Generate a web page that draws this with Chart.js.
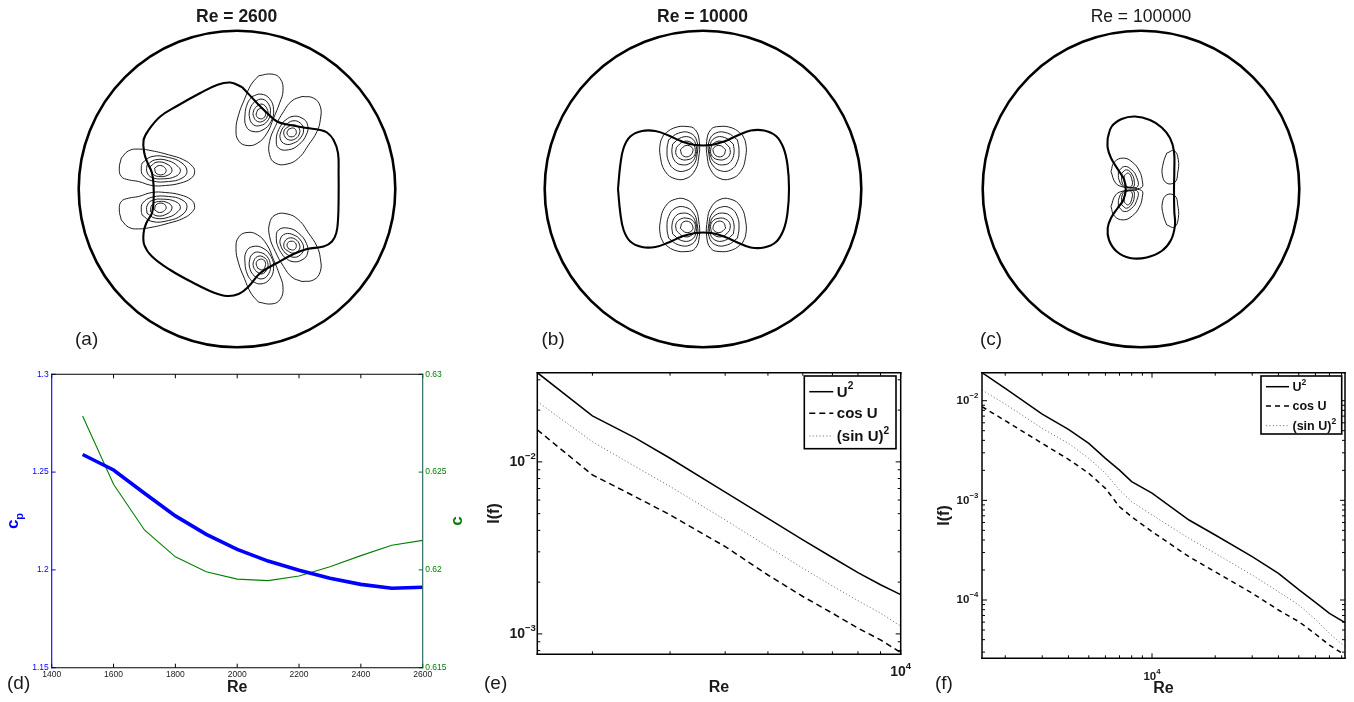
<!DOCTYPE html>
<html><head><meta charset="utf-8">
<script src="https://cdn.jsdelivr.net/npm/chart.js@4.4.1/dist/chart.umd.min.js"></script>
<style>
html,body{margin:0;padding:0;background:#fff;}
#wrap{position:relative;width:1354px;height:702px;overflow:hidden;font-family:"Liberation Sans",Arial,Helvetica,sans-serif;color:#1a1a1a;}
canvas{position:absolute;}
.t{position:absolute;white-space:nowrap;line-height:20px;}
.ttl{font-size:17.5px;transform:translateX(-50%);}
.lab{font-size:19px;}
</style></head><body>
<div id="wrap">
<canvas id="cA" width="348" height="348" style="left:63px;top:15px"></canvas>
<canvas id="cB" width="348" height="348" style="left:529px;top:15px"></canvas>
<canvas id="cC" width="348" height="348" style="left:967px;top:15px"></canvas>
<canvas id="cD" width="470" height="342" style="left:0px;top:360px"></canvas>
<canvas id="cE" width="460" height="342" style="left:460px;top:360px"></canvas>
<canvas id="cF" width="444" height="342" style="left:910px;top:360px"></canvas>
<div class="t ttl" style="left:236.7px;top:6px;font-weight:bold">Re = 2600</div>
<div class="t ttl" style="left:702.5px;top:6px;font-weight:bold">Re = 10000</div>
<div class="t ttl" style="left:1141px;top:6px">Re = 100000</div>
<div class="t lab" style="left:75px;top:329px">(a)</div>
<div class="t lab" style="left:541.5px;top:329px">(b)</div>
<div class="t lab" style="left:980px;top:329px">(c)</div>
<div class="t lab" style="left:7px;top:673px">(d)</div>
<div class="t lab" style="left:484px;top:673px">(e)</div>
<div class="t lab" style="left:935px;top:673px">(f)</div>
</div>
<script>
// ---------- panel (d) data ----------
const reD = [1500,1600,1700,1800,1900,2000,2100,2200,2300,2400,2500,2600];
const cpD = [1.259,1.2511,1.2392,1.2276,1.2182,1.2105,1.2045,1.1998,1.1957,1.1926,1.1906,1.1911];
const cD  = [0.62787,0.62438,0.62204,0.62067,0.61991,0.61953,0.61945,0.61969,0.62016,0.62073,0.62126,0.62151];
const dXTicks = [1400,1600,1800,2000,2200,2400,2600];
const dXTickLabels = ['1400','1600','1800','2000','2200','2400','2600'];
const dCpTicks = [1.15,1.2,1.25,1.3];
const dCpTickLabels = ['1.15','1.2','1.25','1.3'];
const dCTicks = [0.615,0.62,0.625,0.63];
const dCTickLabels = ['0.615','0.62','0.625','0.63'];

// ---------- panel (e) data ----------
const seriesNames = ['U\u00B2','cos U','(sin U)\u00B2'];
const eRe   = [1500,2000,2500,3000,4000,5000,6000,7000,8000,9000,10000];
const eU2   = [0.0330,0.0185,0.0138,0.0105,0.00667,0.0047,0.00352,0.00278,0.00227,0.00193,0.00169];
const eCos  = [0.01535,0.0084,0.00628,0.00492,0.00322,0.0022,0.00165,0.00132,0.00108,0.000923,0.00078];
const eSin2 = [0.0224,0.0131,0.0094,0.0072,0.0046,0.00322,0.00241,0.0019,0.00156,0.00132,0.00111];
const eXTicks = [2000,3000,4000,5000,6000,7000,8000,9000,10000];
const eXTickLabels = ['','','','','','','','','10\u2074'];
const eYTicks = [0.0008,0.0009,0.001,0.002,0.003,0.004,0.005,0.006,0.007,0.008,0.009,0.01,0.02,0.03];
const eYTickLabels = ['','','10\u207B\u00B3','','','','','','','','','10\u207B\u00B2','',''];

// ---------- panel (f) data ----------
const fRe   = [1550,2000,3000,4000,5000,6000,7000,8000,10000,15000,20000,30000,40000,50000,60000,70000,83000];
const fU2   = [0.0191,0.0133,0.00735,0.00516,0.00373,0.00264,0.00201,0.00154,0.00118,0.000635,0.000449,0.000272,0.000185,0.000127,0.0000948,0.0000735,0.0000593];
const fCos  = [0.00871,0.0063,0.00373,0.00258,0.00187,0.00132,0.000863,0.000685,0.000485,0.000272,0.000192,0.000117,0.0000794,0.0000607,0.0000456,0.0000353,0.000028];
const fSin2 = [0.0128,0.00926,0.00527,0.00373,0.00264,0.00187,0.00127,0.000971,0.000713,0.000416,0.000294,0.000178,0.000121,0.0000891,0.000064,0.0000463,0.000034];
const fXTicks = [2000,3000,4000,5000,6000,7000,8000,9000,10000,20000,30000,40000,50000,60000,70000,80000];
const fXTickLabels = ['','','','','','','','','10\u2074','','','','','','',''];
const fYTicks = [0.00003,0.00004,0.00005,0.00006,0.00007,0.00008,0.00009,0.0001,0.0002,0.0003,0.0004,0.0005,0.0006,0.0007,0.0008,0.0009,0.001,0.002,0.003,0.004,0.005,0.006,0.007,0.008,0.009,0.01];
const fYTickLabels = ['','','','','','','','10\u207B\u2074','','','','','','','','','10\u207B\u00B3','','','','','','','','','10\u207B\u00B2'];

// ---------- contour panels: pipe radius and contour loops (domain units, centre at 0,0) ----------
const pipeRadius = 158.3;
const aMain = [[5,102],[20,86],[30,76],[40,67.5],[53,64],[70,61],[83,59],[90,56.5],[96.6,49],[101,36],[101.6,16],[101.6,-11],[101,-31],[99.3,-44],[95,-52.5],[86.6,-57.5],[70,-60],[56.6,-65],[40,-74],[23.3,-84],[11.6,-97.5],[1.6,-105],[-10,-107],[-23.4,-103.5],[-43.4,-94],[-66.7,-81],[-85,-67.5],[-92.7,-56],[-93.4,-44],[-90.7,-34],[-85,-24],[-83.4,-11],[-83.4,2.5],[-85,16],[-89.4,26],[-92.7,36],[-93.4,49],[-88.4,59],[-76.7,72.5],[-60,83],[-36.7,96],[-20,104],[-6.7,106.5]];
const aLeftUp = [
 [[-115.7,30.9],[-108.4,38.2],[-98.4,39.9],[-85,38.2],[-68.4,34.2],[-53.4,29.2],[-44.4,22.5],[-42.4,16.9],[-45.7,10.9],[-56.7,5.9],[-71.7,3.5],[-85,3.5],[-98.4,7.5],[-108.4,9.2],[-115.7,12.5],[-117.7,20.9]],
 [[-95,25.9],[-85,32.5],[-68.4,31.5],[-55,25.9],[-50,17.5],[-55,10.9],[-68.4,7.5],[-85,8.2],[-94.4,14.2],[-95.7,20.9]],
 [[-90,24.2],[-81.7,29.2],[-68.4,28.2],[-59,22.5],[-56.7,17.5],[-61.7,12.5],[-73.4,10.2],[-85,11.5],[-90,16.9]],
 [[-86.7,22.5],[-80,26.9],[-70,24.9],[-65,19.2],[-68.4,14.2],[-78.4,12.5],[-85,15.9]],
 [[-82.4,20.9],[-77.7,23.5],[-72.4,21.5],[-71,17.5],[-75,14.2],[-81,15.9]]];
const aLeftDown = [
 [[-115.7,-30.9],[-108.4,-38.2],[-98.4,-39.9],[-85,-38.2],[-68.4,-34.2],[-53.4,-29.2],[-44.4,-22.5],[-42.4,-16.9],[-45.7,-10.9],[-56.7,-5.9],[-71.7,-3.5],[-85,-3.5],[-98.4,-7.5],[-108.4,-9.2],[-115.7,-12.5],[-117.7,-20.9]],
 [[-95,-25.9],[-85,-32.5],[-68.4,-31.5],[-55,-25.9],[-50,-17.5],[-55,-10.9],[-68.4,-7.5],[-85,-8.2],[-94.4,-14.2],[-95.7,-20.9]],
 [[-90,-24.2],[-81.7,-29.2],[-68.4,-28.2],[-59,-22.5],[-56.7,-17.5],[-61.7,-12.5],[-73.4,-10.2],[-85,-11.5],[-90,-16.9]],
 [[-86.7,-22.5],[-80,-26.9],[-70,-24.9],[-65,-19.2],[-68.4,-14.2],[-78.4,-12.5],[-85,-15.9]],
 [[-82.4,-20.9],[-77.7,-23.5],[-72.4,-21.5],[-71,-17.5],[-75,-14.2],[-81,-15.9]]];
const aUpA = [
 [[21.6,113.2],[35,114.9],[43.3,110.2],[46,98.2],[42.6,85.9],[36.6,70.9],[30,55.9],[20.6,45.9],[10,43.5],[1.6,48.2],[-1,59.2],[1.6,74.2],[7.3,89.2],[14,104.2]],
 [[15,92.5],[24,94.9],[32.6,90.2],[36.6,79.2],[34,67.5],[26,59.2],[16,57.5],[9.3,62.5],[8,74.2],[10.6,85.9]],
 [[17.6,87.5],[25,89.9],[31.6,84.9],[33.3,75.9],[30,67.5],[23.3,63.5],[16.6,64.2],[12.6,70.9],[13.3,80.9]],
 [[19.3,82.5],[25,84.9],[30,80.2],[30.6,73.5],[26.6,68.2],[20.6,67.5],[16.6,72.5],[16.6,78.2]],
 [[20.6,79.2],[25.3,80.9],[28.3,76.9],[27.6,71.9],[23.3,70.2],[19.3,73.5]]];
const aUpB = [
 [[65,92.5],[76.6,90.9],[83.3,82.5],[83.3,69.2],[80,57.5],[71.6,44.2],[61.6,30.9],[50,24.9],[38.3,25.9],[32.6,34.2],[32.6,47.5],[38.3,62.5],[46.6,77.5],[55,88.2]],
 [[46.6,67.5],[55,72.5],[65,70.9],[70.6,64.2],[69.3,54.2],[61.6,44.2],[51.6,39.2],[41.6,40.9],[39.3,49.2],[41.6,59.2]],
 [[48.3,64.2],[56,68.2],[63.3,65.9],[66.6,59.2],[63.3,50.9],[56.6,45.9],[48.3,44.9],[43.3,50.2],[44.3,58.2]],
 [[50,61.5],[56,64.2],[61.6,61.5],[62.6,55.9],[58.3,50.2],[51.6,49.2],[47.3,53.5],[47.3,58.9]],
 [[51.6,59.9],[56.6,60.9],[59.3,57.5],[57.6,53.2],[52.6,52.5],[50,55.9]]];
const aLowA = [
 [[21.6,-113.2],[35,-114.9],[43.3,-110.2],[46,-98.2],[42.6,-85.9],[36.6,-70.9],[30,-55.9],[20.6,-45.9],[10,-43.5],[1.6,-48.2],[-1,-59.2],[1.6,-74.2],[7.3,-89.2],[14,-104.2]],
 [[15,-92.5],[24,-94.9],[32.6,-90.2],[36.6,-79.2],[34,-67.5],[26,-59.2],[16,-57.5],[9.3,-62.5],[8,-74.2],[10.6,-85.9]],
 [[17.6,-87.5],[25,-89.9],[31.6,-84.9],[33.3,-75.9],[30,-67.5],[23.3,-63.5],[16.6,-64.2],[12.6,-70.9],[13.3,-80.9]],
 [[19.3,-82.5],[25,-84.9],[30,-80.2],[30.6,-73.5],[26.6,-68.2],[20.6,-67.5],[16.6,-72.5],[16.6,-78.2]],
 [[20.6,-79.2],[25.3,-80.9],[28.3,-76.9],[27.6,-71.9],[23.3,-70.2],[19.3,-73.5]]];
const aLowB = [
 [[65,-92.5],[76.6,-90.9],[83.3,-82.5],[83.3,-69.2],[80,-57.5],[71.6,-44.2],[61.6,-30.9],[50,-24.9],[38.3,-25.9],[32.6,-34.2],[32.6,-47.5],[38.3,-62.5],[46.6,-77.5],[55,-88.2]],
 [[46.6,-67.5],[55,-72.5],[65,-70.9],[70.6,-64.2],[69.3,-54.2],[61.6,-44.2],[51.6,-39.2],[41.6,-40.9],[39.3,-49.2],[41.6,-59.2]],
 [[48.3,-64.2],[56,-68.2],[63.3,-65.9],[66.6,-59.2],[63.3,-50.9],[56.6,-45.9],[48.3,-44.9],[43.3,-50.2],[44.3,-58.2]],
 [[50,-61.5],[56,-64.2],[61.6,-61.5],[62.6,-55.9],[58.3,-50.2],[51.6,-49.2],[47.3,-53.5],[47.3,-58.9]],
 [[51.6,-59.9],[56.6,-60.9],[59.3,-57.5],[57.6,-53.2],[52.6,-52.5],[50,-55.9]]];

const bMain = [[-85,0],[-82.7,24],[-79.4,41],[-72.7,52.5],[-61,58],[-47.7,58],[-34.4,53.5],[-21,47.5],[-7.7,44],[8,44],[21,47.5],[34.4,53.5],[47.7,58.5],[61,58.5],[73,53],[80.5,41],[84.5,24],[86,0],[84.5,-24],[80.5,-41],[73,-53],[61,-58.5],[47.7,-58.5],[34.4,-53.5],[21,-47.5],[8,-44],[-7.7,-44],[-21,-47.5],[-34.4,-53.5],[-47.7,-58],[-61,-58],[-72.7,-52.5],[-79.4,-41],[-82.7,-24]];
const bUL = [
 [[-39.4,54.2],[-29.4,60.9],[-16,62.5],[-7.7,59.2],[-3.7,47.5],[-4.4,30.9],[-7.7,19.2],[-16,10.9],[-27.7,10.2],[-37.7,17.5],[-42.7,32.5],[-42.7,45.9]],
 [[-34.4,49.2],[-24.4,55.9],[-12.7,55.9],[-6,47.5],[-6,34.2],[-9.4,24.2],[-17.7,18.2],[-27.7,19.2],[-34.4,27.5],[-36,39.2]],
 [[-30.4,44.9],[-21.7,51.5],[-11.7,50.9],[-6.7,42.5],[-7.7,32.5],[-12.7,25.9],[-21,24.2],[-27.7,27.5],[-31,35.9]],
 [[-26.7,41.5],[-19.4,47.5],[-11,45.9],[-7.7,39.2],[-9.4,32.5],[-16,29.2],[-22.7,30.2],[-27,34.9]],
 [[-22.7,39.2],[-17,43.5],[-11,41.5],[-10.4,36.9],[-14.4,32.5],[-20.4,33.5]]];
const bUR = [
 [[39.4,54.2],[29.4,60.9],[16,62.5],[7.7,59.2],[3.7,47.5],[4.4,30.9],[7.7,19.2],[16,10.9],[27.7,10.2],[37.7,17.5],[42.7,32.5],[42.7,45.9]],
 [[34.4,49.2],[24.4,55.9],[12.7,55.9],[6,47.5],[6,34.2],[9.4,24.2],[17.7,18.2],[27.7,19.2],[34.4,27.5],[36,39.2]],
 [[30.4,44.9],[21.7,51.5],[11.7,50.9],[6.7,42.5],[7.7,32.5],[12.7,25.9],[21,24.2],[27.7,27.5],[31,35.9]],
 [[26.7,41.5],[19.4,47.5],[11,45.9],[7.7,39.2],[9.4,32.5],[16,29.2],[22.7,30.2],[27,34.9]],
 [[22.7,39.2],[17,43.5],[11,41.5],[10.4,36.9],[14.4,32.5],[20.4,33.5]]];
const bLL = [
 [[-39.4,-54.2],[-29.4,-60.9],[-16,-62.5],[-7.7,-59.2],[-3.7,-47.5],[-4.4,-30.9],[-7.7,-19.2],[-16,-10.9],[-27.7,-10.2],[-37.7,-17.5],[-42.7,-32.5],[-42.7,-45.9]],
 [[-34.4,-49.2],[-24.4,-55.9],[-12.7,-55.9],[-6,-47.5],[-6,-34.2],[-9.4,-24.2],[-17.7,-18.2],[-27.7,-19.2],[-34.4,-27.5],[-36,-39.2]],
 [[-30.4,-44.9],[-21.7,-51.5],[-11.7,-50.9],[-6.7,-42.5],[-7.7,-32.5],[-12.7,-25.9],[-21,-24.2],[-27.7,-27.5],[-31,-35.9]],
 [[-26.7,-41.5],[-19.4,-47.5],[-11,-45.9],[-7.7,-39.2],[-9.4,-32.5],[-16,-29.2],[-22.7,-30.2],[-27,-34.9]],
 [[-22.7,-39.2],[-17,-43.5],[-11,-41.5],[-10.4,-36.9],[-14.4,-32.5],[-20.4,-33.5]]];
const bLR = [
 [[39.4,-54.2],[29.4,-60.9],[16,-62.5],[7.7,-59.2],[3.7,-47.5],[4.4,-30.9],[7.7,-19.2],[16,-10.9],[27.7,-10.2],[37.7,-17.5],[42.7,-32.5],[42.7,-45.9]],
 [[34.4,-49.2],[24.4,-55.9],[12.7,-55.9],[6,-47.5],[6,-34.2],[9.4,-24.2],[17.7,-18.2],[27.7,-19.2],[34.4,-27.5],[36,-39.2]],
 [[30.4,-44.9],[21.7,-51.5],[11.7,-50.9],[6.7,-42.5],[7.7,-32.5],[12.7,-25.9],[21,-24.2],[27.7,-27.5],[31,-35.9]],
 [[26.7,-41.5],[19.4,-47.5],[11,-45.9],[7.7,-39.2],[9.4,-32.5],[16,-29.2],[22.7,-30.2],[27,-34.9]],
 [[22.7,-39.2],[17,-43.5],[11,-41.5],[10.4,-36.9],[14.4,-32.5],[20.4,-33.5]]];

const cMain = [[-33.3,51],[-29.3,62.5],[-19.3,70],[-6,72.5],[9,69],[20.7,61.5],[29,51],[33,37.5],[33.3,17.5],[33,-1],[33.3,-22.5],[34,-36],[30,-51],[20.7,-62],[5.7,-68.5],[-11,-69],[-24.3,-62.5],[-32,-51],[-33.3,-39],[-30,-29],[-23.3,-19],[-17.7,-11],[-15.3,-1],[-16.7,9],[-22.7,19],[-30,31],[-33.3,41]];
const cUp = [
 [[-30,17.5],[-26.7,26.9],[-17.7,30.9],[-8.7,26.9],[-1.7,18.2],[1.3,8.2],[0.7,1.5],[-9.3,1],[-17.7,2],[-25.3,5.9]],
 [[-22.7,17.5],[-16.7,22.5],[-9.3,19.2],[-4.3,11.5],[-3.3,2.5],[-11,1.5],[-17.7,2.5],[-22,9.2]],
 [[-19.3,15.9],[-14.3,19.2],[-8.7,14.2],[-6.7,6.9],[-7.7,2],[-14.3,2],[-18.7,5.9]],
 [[-16.7,13.5],[-12.7,15.9],[-9.3,10.2],[-9.3,3],[-14.3,2.5],[-16.7,6.9]]];
const cDown = [
 [[-30,-17.5],[-26.7,-26.9],[-17.7,-30.9],[-8.7,-26.9],[-1.7,-18.2],[1.3,-8.2],[0.7,-1.5],[-9.3,-1],[-17.7,-2],[-25.3,-5.9]],
 [[-22.7,-17.5],[-16.7,-22.5],[-9.3,-19.2],[-4.3,-11.5],[-3.3,-2.5],[-11,-1.5],[-17.7,-2.5],[-22,-9.2]],
 [[-19.3,-15.9],[-14.3,-19.2],[-8.7,-14.2],[-6.7,-6.9],[-7.7,-2],[-14.3,-2],[-18.7,-5.9]],
 [[-16.7,-13.5],[-12.7,-15.9],[-9.3,-10.2],[-9.3,-3],[-14.3,-2.5],[-16.7,-6.9]]];
const cOvals = [
 [[25.7,35.9],[33.3,38.2],[37.3,29.2],[36.7,15.9],[34,6.9],[25.7,5.9],[21.3,14.2],[22.3,25.9]],
 [[25.7,-35.9],[33.3,-38.2],[37.3,-29.2],[36.7,-15.9],[34,-6.9],[25.7,-5.9],[21.3,-14.2],[22.3,-25.9]]];

// ---------- helpers & plugins ----------
const FONT = '"Liberation Sans", Arial, Helvetica, sans-serif';
Chart.defaults.font.family = FONT;
Chart.defaults.color = '#1a1a1a';

// superscript characters are drawn as smaller raised glyphs
const SUP = {'\u2070':'0','\u00B9':'1','\u00B2':'2','\u00B3':'3','\u2074':'4','\u207B':'\u2212'};
function drawRich(ctx, text, x, y, size, align, color) {
  const runs = [];
  for (const ch of text) {
    const sup = SUP[ch] !== undefined;
    const c = sup ? SUP[ch] : ch;
    if (runs.length && runs[runs.length - 1].sup === sup) runs[runs.length - 1].t += c;
    else runs.push({t: c, sup});
  }
  const fs = r => 'bold ' + (r.sup ? size * 0.68 : size) + 'px ' + FONT;
  let W = 0;
  runs.forEach(r => { ctx.font = fs(r); r.w = ctx.measureText(r.t).width; W += r.w; });
  let cx = align === 'right' ? x - W : align === 'center' ? x - W / 2 : x;
  ctx.textAlign = 'left'; ctx.textBaseline = 'middle'; ctx.fillStyle = color;
  runs.forEach(r => { ctx.font = fs(r); ctx.fillText(r.t, cx, r.sup ? y - size * 0.42 : y); cx += r.w; });
}

const framePlugin = {
  id: 'frame',
  afterDraw(chart, args, o) {
    if (!o || !o.sides) return;
    const ctx = chart.ctx, a = chart.chartArea;
    ctx.save();
    (o.marks || []).forEach(m => {
      const sc = chart.scales[m.scale];
      ctx.strokeStyle = m.color; ctx.lineWidth = m.width || 1;
      ctx.beginPath();
      sc.ticks.forEach(t => {
        const lg = Math.log10(t.value);
        const major = !m.log || Math.abs(lg - Math.round(lg)) < 1e-6;
        const L = major ? m.major : m.minor;
        const p = sc.getPixelForValue(t.value);
        m.sides.forEach(s => {
          if (s === 'bottom') { ctx.moveTo(p, a.bottom); ctx.lineTo(p, a.bottom - L); }
          else if (s === 'top') { ctx.moveTo(p, a.top); ctx.lineTo(p, a.top + L); }
          else if (s === 'left') { ctx.moveTo(a.left, p); ctx.lineTo(a.left + L, p); }
          else { ctx.moveTo(a.right, p); ctx.lineTo(a.right - L, p); }
        });
      });
      ctx.stroke();
    });
    const S = o.sides;
    ctx.lineWidth = o.width || 1; ctx.lineCap = 'square';
    const seg = (x1, y1, x2, y2, c) => { ctx.strokeStyle = c; ctx.beginPath(); ctx.moveTo(x1, y1); ctx.lineTo(x2, y2); ctx.stroke(); };
    seg(a.left, a.top, a.right, a.top, S.top);
    seg(a.left, a.bottom, a.right, a.bottom, S.bottom);
    seg(a.left, a.top, a.left, a.bottom, S.left);
    seg(a.right, a.top, a.right, a.bottom, S.right);
    ctx.restore();
  }
};
const richTicks = {
  id: 'richTicks',
  afterDraw(chart, args, o) {
    if (!o || !o.items) return;
    const ctx = chart.ctx, a = chart.chartArea;
    ctx.save();
    o.items.forEach(it => {
      const sc = chart.scales[it.scale];
      sc.ticks.forEach((t, i) => {
        const txt = it.labels[i];
        if (!txt) return;
        const p = sc.getPixelForValue(t.value);
        if (it.side === 'bottom') drawRich(ctx, txt, p, a.bottom + it.off, it.size, 'center', '#1a1a1a');
        else drawRich(ctx, txt, a.left - it.off, p, it.size, 'right', '#1a1a1a');
      });
    });
    ctx.restore();
  }
};
const boxLegend = {
  id: 'boxLegend',
  afterDraw(chart, args, o) {
    if (!o || !o.rows) return;
    const ctx = chart.ctx, a = chart.chartArea;
    const x0 = a.right - o.offRight, y0 = a.top + o.offTop;
    ctx.save();
    ctx.fillStyle = '#fff'; ctx.fillRect(x0, y0, o.w, o.h);
    ctx.strokeStyle = '#000'; ctx.lineWidth = 1.6; ctx.strokeRect(x0, y0, o.w, o.h);
    chart.data.datasets.forEach((ds, i) => {
      const y = y0 + o.rows[i];
      ctx.strokeStyle = ds.borderColor; ctx.lineWidth = ds.borderWidth;
      ctx.setLineDash(ds.borderDash || []);
      ctx.beginPath(); ctx.moveTo(x0 + o.sx0, y); ctx.lineTo(x0 + o.sx1, y); ctx.stroke();
      ctx.setLineDash([]);
      drawRich(ctx, ds.label, x0 + o.tx, y + 1, o.size, 'left', '#111');
    });
    ctx.restore();
  }
};
Chart.register(framePlugin, richTicks, boxLegend);

function closedPts(loop) {
  const pts = loop.map(p => ({x: p[0], y: p[1]}));
  pts.push({x: loop[0][0], y: loop[0][1]});
  return pts;
}
const HALF = 174;
function contourChart(id, main, groups) {
  const ds = [{
    data: [{x: 0, y: 0}], showLine: false, pointStyle: 'circle',
    pointRadius: c => { const s = c.chart.scales.x; return s.getPixelForValue(pipeRadius) - s.getPixelForValue(0); },
    pointBorderWidth: 2.6, pointBorderColor: '#000', pointBackgroundColor: 'rgba(0,0,0,0)', clip: false
  }, {
    data: closedPts(main), showLine: true, borderColor: '#000', borderWidth: 2.1, pointRadius: 0, tension: 0.4, clip: false
  }];
  groups.forEach(g => g.forEach(loop => ds.push({
    data: closedPts(loop), showLine: true, borderColor: '#111', borderWidth: 0.95, pointRadius: 0, tension: 0.45, clip: false
  })));
  new Chart(document.getElementById(id), {
    type: 'scatter', data: {datasets: ds},
    options: {
      responsive: false, animation: false, events: [], devicePixelRatio: 1,
      layout: {padding: 0, autoPadding: false},
      plugins: {legend: {display: false}, tooltip: {enabled: false}},
      scales: {
        x: {type: 'linear', min: -HALF, max: HALF, display: false},
        y: {type: 'linear', min: -HALF, max: HALF, display: false}
      }
    }
  });
}
contourChart('cA', aMain, [aLeftUp, aLeftDown, aUpA, aUpB, aLowA, aLowB]);
contourChart('cB', bMain, [bUL, bUR, bLL, bLR]);
contourChart('cC', cMain, [cUp, cDown, cOvals]);

const zip = (xs, ys) => xs.map((x, i) => ({x, y: ys[i]}));
const setTicks = arr => s => { s.ticks = arr.map(v => ({value: v})); };
const noGrid = {display: false, drawTicks: false};

// ---------- (d) ----------
const dAxisLabels = {
  id: 'dAxisLabels',
  afterDraw(chart) {
    const ctx = chart.ctx, a = chart.chartArea, yc = (a.top + a.bottom) / 2;
    ctx.save();
    ctx.translate(a.left - 33.5, yc); ctx.rotate(-Math.PI / 2);
    ctx.textBaseline = 'alphabetic'; ctx.fillStyle = '#0000ff';
    ctx.font = 'bold 17px ' + FONT; const wc = ctx.measureText('c').width;
    ctx.font = 'bold 11px ' + FONT; const wp = ctx.measureText('p').width;
    const x0 = -(wc + wp) / 2;
    ctx.font = 'bold 17px ' + FONT; ctx.fillText('c', x0, 0);
    ctx.font = 'bold 11px ' + FONT; ctx.fillText('p', x0 + wc, 4.5);
    ctx.restore();
    ctx.save();
    ctx.translate(a.right + 39, yc); ctx.rotate(-Math.PI / 2);
    ctx.textBaseline = 'alphabetic'; ctx.textAlign = 'center';
    ctx.fillStyle = '#008000'; ctx.font = 'bold 17px ' + FONT;
    ctx.fillText('c', 0, 0);
    ctx.restore();
  }
};
new Chart(document.getElementById('cD'), {
  type: 'scatter',
  data: {datasets: [
    {label: 'cp', data: zip(reD, cpD), yAxisID: 'y', showLine: true, borderColor: '#0000ff', borderWidth: 3.6, pointRadius: 0, tension: 0},
    {label: 'c', data: zip(reD, cD), yAxisID: 'y1', showLine: true, borderColor: '#008000', borderWidth: 1.1, pointRadius: 0, tension: 0}
  ]},
  plugins: [dAxisLabels],
  options: {
    responsive: false, animation: false, events: [], devicePixelRatio: 1,
    layout: {padding: {top: 14.3, left: 0, right: 0, bottom: 0}, autoPadding: false},
    plugins: {
      legend: {display: false}, tooltip: {enabled: false},
      frame: {width: 1.1, sides: {top: '#000', bottom: '#000', left: '#0000ff', right: '#1f5f55'},
        marks: [{scale: 'x', sides: ['bottom', 'top'], color: '#000', major: 4, minor: 4},
                {scale: 'y', sides: ['left'], color: '#0000ff', major: 4, minor: 4},
                {scale: 'y1', sides: ['right'], color: '#008000', major: 4, minor: 4}]}
    },
    scales: {
      x: {type: 'linear', position: 'bottom', min: 1400, max: 2600, bounds: 'data',
        afterBuildTicks: setTicks(dXTicks), afterFit: s => { s.height = 34.3; },
        grid: noGrid, border: {display: false},
        ticks: {autoSkip: false, maxRotation: 0, minRotation: 0, padding: 2.2, font: {size: 8.5}, color: '#1a1a1a', callback: (v, i) => dXTickLabels[i]},
        title: {display: true, text: 'Re', font: {size: 16, weight: 'bold'}, color: '#1a1a1a', padding: {top: 0, bottom: 4.4}}},
      y: {type: 'linear', position: 'left', min: 1.15, max: 1.3, bounds: 'data',
        afterBuildTicks: setTicks(dCpTicks), afterFit: s => { s.width = 51.7; },
        grid: noGrid, border: {display: false},
        ticks: {autoSkip: false, padding: 3, font: {size: 8.5}, color: '#0000ff', callback: (v, i) => dCpTickLabels[i]}},
      y1: {type: 'linear', position: 'right', min: 0.615, max: 0.63, bounds: 'data',
        afterBuildTicks: setTicks(dCTicks), afterFit: s => { s.width = 47.3; },
        grid: noGrid, border: {display: false},
        ticks: {autoSkip: false, padding: 2.5, font: {size: 8.5}, color: '#008000', callback: (v, i) => dCTickLabels[i]}}
    }
  }
});

// ---------- (e) & (f) ----------
function logPanel(id, cfg) {
  new Chart(document.getElementById(id), {
    type: 'scatter',
    data: {datasets: [
      {label: seriesNames[0], data: zip(cfg.re, cfg.u2), showLine: true, borderColor: '#000', borderWidth: 1.5, pointRadius: 0, tension: 0},
      {label: seriesNames[1], data: zip(cfg.re, cfg.cos), showLine: true, borderColor: '#000', borderWidth: 1.5, borderDash: cfg.dash, pointRadius: 0, tension: 0},
      {label: seriesNames[2], data: zip(cfg.re, cfg.sin2), showLine: true, borderColor: '#7a7a7a', borderWidth: 1, borderDash: [1.2, 2.2], pointRadius: 0, tension: 0}
    ]},
    options: {
      responsive: false, animation: false, events: [], devicePixelRatio: 1,
      layout: {padding: {top: 12.7, left: 0, right: cfg.padRight, bottom: 0}, autoPadding: false},
      plugins: {
        legend: {display: false}, tooltip: {enabled: false},
        frame: {width: 1.5, sides: {top: '#000', bottom: '#000', left: '#000', right: '#000'},
          marks: [{scale: 'x', sides: ['bottom', 'top'], color: '#000', log: true, major: 5, minor: 3},
                  {scale: 'y', sides: ['left', 'right'], color: '#000', log: true, major: 5, minor: 3}]},
        richTicks: {items: [
          {scale: 'x', side: 'bottom', labels: cfg.xLabels, off: cfg.xOff, size: cfg.tickSize},
          {scale: 'y', side: 'left', labels: cfg.yLabels, off: cfg.yOff, size: cfg.tickSize}]},
        boxLegend: cfg.legend
      },
      scales: {
        x: {type: 'logarithmic', position: 'bottom', min: cfg.xmin, max: cfg.xmax, bounds: 'data',
          afterBuildTicks: setTicks(cfg.xTicks), afterFit: s => { s.height = cfg.xH; },
          grid: noGrid, border: {display: false},
          ticks: {autoSkip: false, maxRotation: 0, minRotation: 0, major: {enabled: false}, callback: () => ''},
          title: {display: true, text: 'Re', font: {size: 16, weight: 'bold'}, color: '#1a1a1a', padding: {top: 0, bottom: cfg.reBottom}}},
        y: {type: 'logarithmic', position: 'left', min: cfg.ymin, max: cfg.ymax, bounds: 'data',
          afterBuildTicks: setTicks(cfg.yTicks), afterFit: s => { s.width = cfg.yW; },
          grid: noGrid, border: {display: false},
          ticks: {autoSkip: false, major: {enabled: false}, callback: () => ''},
          title: {display: true, text: 'I(f)', font: {size: 16, weight: 'bold'}, color: '#1a1a1a', padding: {top: 24.5, bottom: 0}}}
      }
    }
  });
}
logPanel('cE', {
  re: eRe, u2: eU2, cos: eCos, sin2: eSin2, dash: [6, 4],
  xmin: 1500, xmax: 10000, ymin: 0.000761, ymax: 0.0330,
  xTicks: eXTicks, xLabels: eXTickLabels, yTicks: eYTicks, yLabels: eYTickLabels,
  padRight: 19.3, xH: 47.7, yW: 77.3, xOff: 17.5, yOff: 1.5, tickSize: 14, reBottom: 4.4,
  legend: {offRight: 96.4, offTop: 3.3, w: 91.7, h: 72.7, rows: [15.7, 37.3, 60], sx0: 5, sx1: 29, tx: 32.5, size: 15}
});
logPanel('cF', {
  re: fRe, u2: fU2, cos: fCos, sin2: fSin2, dash: [5, 4],
  xmin: 1550, xmax: 83000, ymin: 0.000026, ymax: 0.0191,
  xTicks: fXTicks, xLabels: fXTickLabels, yTicks: fYTicks, yLabels: fYTickLabels,
  padRight: 9, xH: 43.7, yW: 72, xOff: 18.4, yOff: 3.7, tickSize: 11.5, reBottom: 4.1,
  legend: {offRight: 84, offTop: 3.3, w: 80.7, h: 58, rows: [10.7, 30, 49.7], sx0: 5, sx1: 28, tx: 31.5, size: 12.5}
});
</script>
</body></html>
